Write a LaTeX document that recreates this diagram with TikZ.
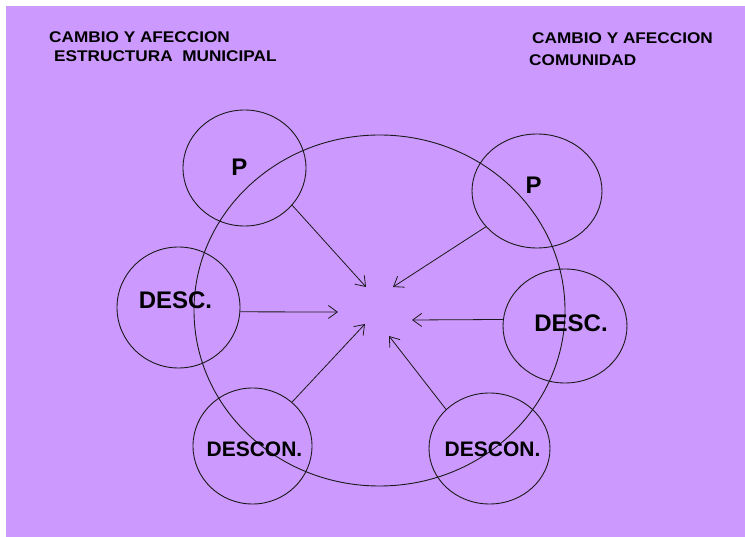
\documentclass[tikz,border=0pt]{standalone}
\usepackage{fontspec}
\setmainfont{Liberation Sans}
\usetikzlibrary{arrows.meta,shapes.geometric}
\definecolor{lilac}{HTML}{CC99FF}
\definecolor{inkline}{HTML}{1A1A1A}

\begin{document}
\begin{tikzpicture}[
  x=1pt, y=-1pt,
  ring/.style={ellipse, draw=inkline, line width=0.9pt, inner sep=0pt},
  tag/.style={font=\fontsize{24}{28}\selectfont\bfseries, inner sep=0pt},
  tagsmall/.style={font=\fontsize{21}{25}\selectfont\bfseries, inner sep=0pt},
  headline/.style={font=\fontsize{15.5}{18}\selectfont\bfseries, inner sep=0pt,
    anchor=base west, xscale=1.11, transform shape},
  pull/.style={inkline, line width=0.8pt, -{Straight Barb[length=9pt, width=13pt]}},
]
\useasboundingbox (0,0) rectangle (745,537);

% Background panel
\fill[lilac] (6,6) rectangle (745,537);

% Headings — one line per node
\node[headline] (hl1) at (49,43) {CAMBIO Y AFECCION};
\node[headline] (hl2) at (54,61.7) {ESTRUCTURA\ \ MUNICIPAL};
\node[headline] (hr1) at (532,43.3) {CAMBIO Y AFECCION};
\node[headline] (hr2) at (529,66) {COMUNIDAD};

% Large central ellipse
\node[ring, minimum width=371, minimum height=351] (big) at (379.5,310.5) {};

% Small ellipses round it
\node[ring, minimum width=123, minimum height=116] (pl) at (244.5,168) {};
\node[ring, minimum width=130, minimum height=114] (pr) at (537,191) {};
\node[ring, minimum width=123, minimum height=121] (dl) at (178.5,307.5) {};
\node[ring, minimum width=124, minimum height=114] (dr) at (565,326) {};
\node[ring, minimum width=119, minimum height=116] (cl) at (252.5,446) {};
\node[ring, minimum width=121, minimum height=111] (cr) at (489.5,448.5) {};

% Their labels
\node[tag] (plt) at (239.5,167.5) {P};
\node[tag] (prt) at (533.5,185.5) {P};
\node[tag] (dlt) at (175.5,300.5) {DESC.};
\node[tag] (drt) at (571,323) {DESC.};
\node[tagsmall] (clt) at (254.5,449.5) {DESCON.};
\node[tagsmall] (crt) at (492.5,449.5) {DESCON.};

% Arrow tips near the centre
\coordinate (t1) at (366,287);
\coordinate (t2) at (393,287);
\coordinate (t3) at (338,312);
\coordinate (t4) at (412,320);
\coordinate (t5) at (365,324);
\coordinate (t6) at (389,336);

% Arrows pointing inwards
\draw[pull] (pl.-38) -- (t1);
\draw[pull] (pr.-145) -- (t2);
\draw[pull] (dl.-4) -- (t3);
\draw[pull] (dr.174.5) -- (t4);
\draw[pull] (cl.48.8) -- (t5);
\draw[pull] (cr.138.5) -- (t6);

\end{tikzpicture}
\end{document}
